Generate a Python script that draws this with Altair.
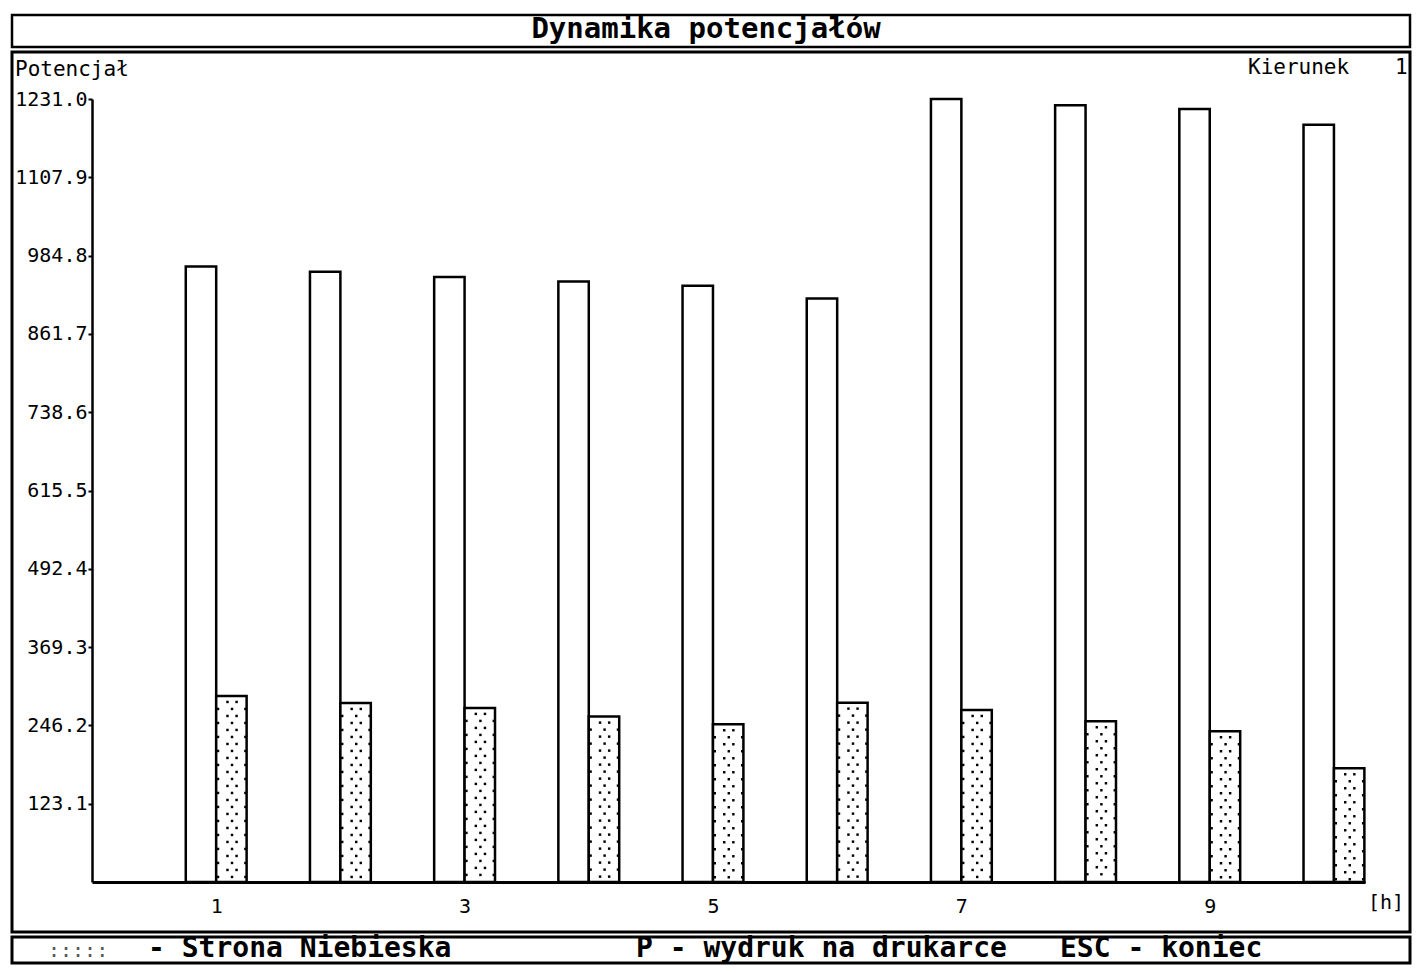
import altair as alt
import pandas as pd

# ---------------- data ----------------
hours = [1, 2, 3, 4, 5, 6, 7, 8, 9, 10]
white_values = [967.7, 959.4, 951.0, 944.2, 937.4, 917.4, 1231.0, 1221.0, 1215.3, 1190.6]
blue_values = [292.5, 281.5, 273.7, 260.0, 248.0, 282.0, 270.5, 252.7, 237.0, 178.8]
y_ticks = [123.1, 246.2, 369.3, 492.4, 615.5, 738.6, 861.7, 984.8, 1107.9, 1231.0]
x_ticks = [1, 3, 5, 7, 9]

title_text = "Dynamika potencjałów"
y_label = "Potencjał"
dir_label = "Kierunek"
dir_value = "1"
x_unit = "[h]"
legend_text = "- Strona Niebieska"
print_text = "P - wydruk na drukarce"
esc_text = "ESC - koniec"

# ---------------- layout / style ----------------
MONO = "DejaVu Sans Mono"
W, H = 1273, 783
X_DOMAIN = [0, 10.25]
Y_DOMAIN = [0, 1231.0]
BW = 0.245  # bar width in hours
PX_H = W / (X_DOMAIN[1] - X_DOMAIN[0])
PX_V = H / (Y_DOMAIN[1] - Y_DOMAIN[0])

xs = alt.Scale(domain=X_DOMAIN, nice=False, zero=False)
ys = alt.Scale(domain=Y_DOMAIN, nice=False)

X_AX = alt.Axis(values=x_ticks, format="d", title=None, grid=False, ticks=False,
                domainColor="black", domainWidth=3, labelPadding=14,
                labelFont=MONO, labelFontSize=20, labelColor="black")
Y_AX = alt.Axis(values=y_ticks, format=".1f", title=None, grid=False,
                domainColor="black", domainWidth=2.5, tickColor="black",
                tickWidth=2, tickSize=4, labelPadding=1,
                labelFont=MONO, labelFontSize=20, labelColor="black")

white_df = pd.DataFrame({"h": hours, "v": white_values})
white_df["x0"] = white_df["h"] - BW
white_df["x1"] = white_df["h"]

blue_df = pd.DataFrame({"h": hours, "v": blue_values})
blue_df["x0"] = blue_df["h"]
blue_df["x1"] = blue_df["h"] + BW

# dotted texture inside the blue bars (derived from the values)
dot_rows = []
for h, v in zip(hours, blue_values):
    top_px = v * PX_V
    i = 0
    d = 6.0
    while d < top_px - 2:
        fr = [0.37, 0.67] if i % 2 == 0 else [0.06, 0.52, 0.96]
        for f in fr:
            dot_rows.append({"x": h + f * BW, "y": v - d / PX_V})
        d += 7.0
        i += 1
dots_df = pd.DataFrame(dot_rows)

white_bars = alt.Chart(white_df).mark_bar(
    fill="white", stroke="black", strokeWidth=2.5
).encode(
    x=alt.X("x0:Q", scale=xs, axis=X_AX), x2="x1:Q",
    y=alt.Y("v:Q", scale=ys, axis=Y_AX), y2=alt.datum(0),
)

blue_bars = alt.Chart(blue_df).mark_bar(
    fill="white", stroke="black", strokeWidth=2.5
).encode(
    x=alt.X("x0:Q", scale=xs, axis=X_AX), x2="x1:Q",
    y=alt.Y("v:Q", scale=ys, axis=Y_AX), y2=alt.datum(0),
)

dots = alt.Chart(dots_df).mark_square(size=6, color="black", opacity=1).encode(
    x=alt.X("x:Q", scale=xs, axis=X_AX),
    y=alt.Y("y:Q", scale=ys, axis=Y_AX),
)


def box(x1, y1, x2, y2, sw=2.5):
    return alt.Chart(pd.DataFrame({"k": [0]})).mark_rect(
        fill="transparent", stroke="black", strokeWidth=sw
    ).encode(x=alt.value(x1), x2=alt.value(x2), y=alt.value(y1), y2=alt.value(y2))


def label(text, x, y, size=20, weight="normal", align="left", color="black"):
    return alt.Chart(pd.DataFrame({"t": [text]})).mark_text(
        font=MONO, fontSize=size, fontWeight=weight, align=align,
        baseline="middle", color=color
    ).encode(text="t:N", x=alt.value(x), y=alt.value(y))


layers = [
    box(-80, -84, 1318, -52, 2.5),
    box(-80, -47, 1318, 833, 3),
    box(-80, 838, 1318, 864, 3),
    white_bars,
    blue_bars,
    dots,
    label(title_text, 614, -70, size=29, weight="bold", align="center"),
    label(y_label, -77, -29, size=21),
    label(dir_label, 1156, -31, size=21),
    label(dir_value, 1303, -31, size=21),
    label(x_unit, 1276, 804, size=20),
    label(":::::", -44, 852, size=20, color="#555555"),
    label(legend_text, 56, 850, size=28, weight="bold"),
    label(print_text, 544, 850, size=28, weight="bold"),
    label(esc_text, 968, 850, size=28, weight="bold"),
]

chart = alt.layer(*layers).properties(
    width=W, height=H,
    padding={"left": 84, "top": 91, "right": 53, "bottom": 83},
    autosize=alt.AutoSizeParams(type="none"),
    background="white",
).configure_view(strokeWidth=0)

chart.save("out.html", embed_options={"renderer": "svg", "actions": False})
